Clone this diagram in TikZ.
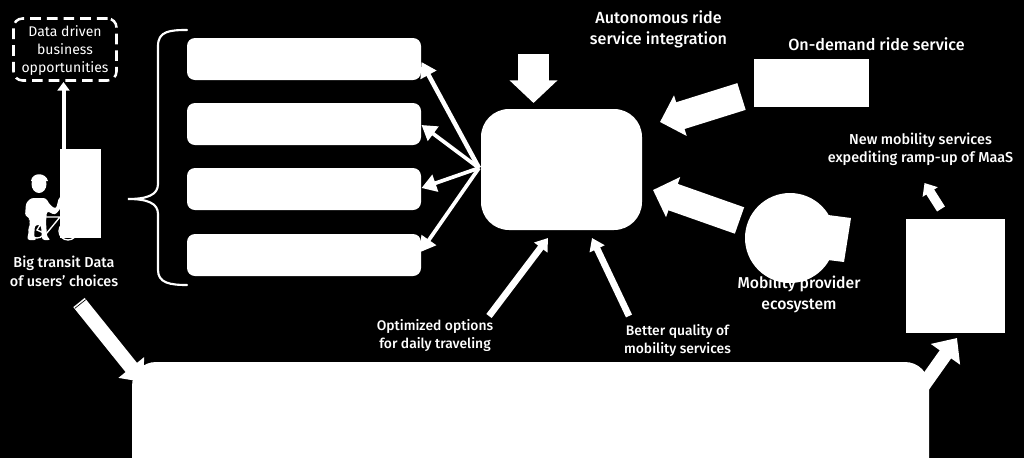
\documentclass[tikz,border=0pt]{standalone}
\usepackage{fontspec}
\setmainfont{Fira Sans}[BoldFont={Fira Sans Medium}]
\usetikzlibrary{arrows.meta}
\tikzset{
  wbox/.style={fill=white,draw=none,rounded corners=8*0.75pt,inner sep=0pt},
  lbl/.style={text=white,align=center,inner sep=0pt},
  lblbig/.style={lbl,font=\fontsize{12.1pt}{15.6pt}\selectfont\bfseries},
  lblmob/.style={lbl,font=\fontsize{11.8pt}{15.75pt}\selectfont\bfseries},
  lblsmall/.style={lbl,font=\fontsize{10.4pt}{13.5pt}\selectfont\bfseries},
  lblnew/.style={lbl,font=\fontsize{10.8pt}{13.5pt}\selectfont\bfseries},
  lbluser/.style={lbl,font=\fontsize{10.8pt}{14.25pt}\selectfont\bfseries},
  thinarrow/.style={draw=white,line width=3.4pt,-{Triangle[length=11pt,width=13pt]}},
  midarrow/.style={draw=white,line width=5pt,-{Triangle[length=9pt,width=12pt]}},
  bigarrow/.style={draw=white,line width=21pt,-{Triangle[length=16pt,width=31pt]}},
}
\begin{document}
\begin{tikzpicture}[x=0.75pt,y=-0.75pt]
\useasboundingbox (0,0) rectangle (1024,458);
\fill[black] (0,0) rectangle (1024,458);
% anchors for free ends
\coordinate (bigdownS) at (533.5,54);
\coordinate (bigdownT) at (533.5,103);
\coordinate (ondemS) at (741.5,96.5);
\coordinate (ondemT) at (660,122);
\coordinate (mobS) at (739.5,220.5);
\coordinate (mobT) at (653,190);
\coordinate (origin) at (479,168);
\coordinate (t1) at (421.5,62);
\coordinate (t2) at (421.5,125);
\coordinate (t3) at (421.5,188);
\coordinate (t4) at (420.5,252);
\coordinate (optS) at (489,316);
\coordinate (optT) at (548,238);
\coordinate (qualS) at (629,316);
\coordinate (qualT) at (592,238);
\coordinate (newS) at (941,209);
\coordinate (newT) at (924.5,183);
\coordinate (rightS) at (918,393);
\coordinate (rightT) at (957,338);
\coordinate (leftS) at (79,302.5);
\coordinate (leftT) at (143,382);
\coordinate (upS) at (63.5,150);
\coordinate (upT) at (63.5,82);
% arrows under boxes
\draw[draw=white,line width=11pt,-{Triangle[length=14pt,width=24pt]}] (leftS) -- (leftT);
\draw[black,line width=0.5pt] (74.8,308.4) -- (85.8,299.6);
\draw[draw=white,line width=10.5pt,-{Triangle[length=15pt,width=26pt]}] (rightS) -- (rightT);
% boxes
\node[wbox,minimum width=234*0.75pt,minimum height=42*0.75pt] (b1) at (304,59) {};
\node[wbox,minimum width=234*0.75pt,minimum height=42*0.75pt] (b2) at (304,124) {};
\node[wbox,minimum width=234*0.75pt,minimum height=42*0.75pt] (b3) at (304,189) {};
\node[wbox,minimum width=234*0.75pt,minimum height=42*0.75pt] (b4) at (304,255) {};
\node[wbox,rounded corners=28*0.75pt,minimum width=161*0.75pt,minimum height=121*0.75pt] (core) at (561.5,169.5) {};
\node[wbox,rounded corners=24*0.75pt,minimum width=797*0.75pt,minimum height=130*0.75pt] (base) at (530.5,427) {};
\node[fill=white,inner sep=0pt,minimum width=99*0.75pt,minimum height=114*0.75pt] (rbox) at (955.5,276) {};
\node[fill=white,inner sep=0pt,minimum width=115*0.75pt,minimum height=48*0.75pt] (ondem) at (811.5,83) {};
\node[fill=white,inner sep=0pt,minimum width=41*0.75pt,minimum height=89*0.75pt] (user) at (80.5,193.5) {};
% thin arrows
\draw[thinarrow] (origin) -- (t1);
\draw[thinarrow,line width=2.8pt] (origin) -- (t2);
\draw[thinarrow,line width=2.8pt] (origin) -- (t3);
\draw[thinarrow,line width=2.8pt] (origin) -- (t4);
\draw[midarrow] (optS) -- (optT);
\draw[midarrow] (qualS) -- (qualT);
\draw[draw=white,line width=3pt,-{Triangle[length=6.5pt,width=9pt]}] (upS) -- (upT);
% block arrows
\draw[draw=white,line width=23pt,-{Triangle[length=17pt,width=35pt]}] (bigdownS) -- (bigdownT);
\draw[bigarrow] (ondemS) -- (ondemT);
\draw[bigarrow] (mobS) -- (mobT);
\draw[draw=white,line width=7pt,-{Triangle[length=8pt,width=13pt]}] (newS) -- (newT);
% texts
\node[lblbig] (tA) at (658.5,29) {Autonomous ride\\service integration};
\node[lblbig] (tB) at (876.5,44.5) {On-demand ride service};
\node[lblnew] (tC) at (920.5,149.5) {New mobility services\\expediting ramp-up of MaaS};
\node[lblmob] (tD) at (799,294) {Mobility provider\\ecosystem};
\node[lblsmall] (tE) at (435,335.5) {Optimized options\\for daily traveling};
\node[lblsmall] (tF) at (677.5,340) {Better quality of\\mobility services};
\node[lbluser] (tG) at (64,271.5) {Big transit Data\\of users' choices};
% circle over label
\node[fill=white,circle,inner sep=0pt,minimum size=90*0.75pt] (circ) at (790,238) {};
\fill[white] (828,215) -- (851,218) -- (844,262) -- (828,260) -- cycle;
% dashed box
\node[draw=white,line width=1.9pt,dash pattern=on 8pt off 4.5pt,rounded corners=9*0.75pt,minimum width=103*0.75pt,minimum height=62*0.75pt,inner sep=0pt] (dbox) at (65,49.5) {};
\node[text=white,font=\fontsize{10.5pt}{13.5pt}\selectfont,align=center,inner sep=0pt] (dtxt) at (65,51) {Data driven\\business\\opportunities};
% brace
\draw[white,line width=1.6pt,line cap=round] (187,30) .. controls (170,30) and (158,31) .. (158,46) -- (158,184) .. controls (158,195) and (147,199) .. (128,199) .. controls (147,199) and (158,203) .. (158,214) -- (158,270) .. controls (158,283) and (170,285) .. (187,285);
% person with bicycle
\draw[white,line width=1pt] (37,230) circle (8*0.75pt);
\draw[white,line width=1pt] (68,231) circle (9*0.75pt);
\draw[white,line width=1pt] (37,230) -- (45,217) -- (60,217) -- (46,234) -- cycle;
\fill[white,rounded corners=2pt] (31,198) -- (46,198) -- (50,205) -- (56,209) -- (59,197) -- (62,198) -- (61,208) -- (55,215) -- (47,211) -- (46,222) -- (47,237) -- (51,240) -- (42,240) -- (41,225) -- (35,225) -- (34,237) -- (37,240) -- (27,240) -- (30,225) -- (29,220) -- (30,218) -- (25,216) -- (26,203) -- cycle;
\fill[white] (39,184) ellipse (7.5*0.75pt and 9*0.75pt);
\fill[white] (31,181) .. controls (32,172) and (46,172) .. (48,181) -- cycle;
\end{tikzpicture}
\end{document}
